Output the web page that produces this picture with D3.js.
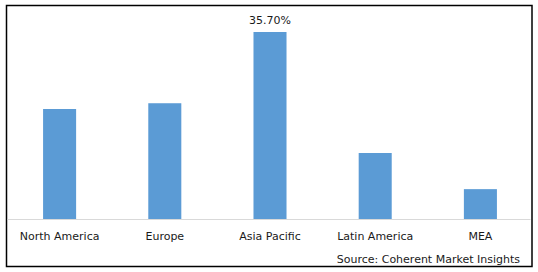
<!DOCTYPE html>
<html>
<head>
<meta charset="utf-8">
<script src="https://cdn.jsdelivr.net/npm/d3@7"></script>
<style>
  body { margin: 0; background: #fff; }
  text { font-family: "DejaVu Sans", sans-serif; font-size: 11px; fill: #1a1a1a; }
</style>
</head>
<body>
<div id="chart"></div>
<script>
// region shares, percent
const regions = ["North America", "Europe", "Asia Pacific", "Latin America", "MEA"];
const shares = [21.0, 22.1, 35.7, 12.6, 5.7];
const shareLabels = ["", "", "35.70%", "", ""];
const sourceText = "Source: Coherent Market Insights";

const width = 538, height = 272;
const baseline = 219;

const data = regions.map((r, i) => ({region: r, value: shares[i], label: shareLabels[i]}));

const svg = d3.select("#chart")
  .append("svg")
  .attr("width", width)
  .attr("height", height);

// outer frame
svg.append("rect")
  .attr("x", 6.5).attr("y", 5.5)
  .attr("width", 525.5).attr("height", 261)
  .attr("fill", "none")
  .attr("stroke", "#000")
  .attr("stroke-width", 1.5);

const x = d3.scaleBand()
  .domain(regions)
  .range([7, 533])
  .paddingInner(0.686)
  .paddingOuter(0.343);

const y = d3.scaleLinear()
  .domain([0, 35.7])
  .range([baseline, 32]);

svg.selectAll(".bar")
  .data(data)
  .enter()
  .append("rect")
  .attr("class", "bar")
  .attr("x", d => x(d.region))
  .attr("y", d => y(d.value))
  .attr("width", x.bandwidth())
  .attr("height", d => y(0) - y(d.value))
  .attr("fill", "#5b9bd5");

// category axis
const xAxis = svg.append("g")
  .attr("transform", `translate(0,${baseline})`)
  .call(d3.axisBottom(x).tickSize(0).tickPadding(13));
xAxis.select(".domain")
  .attr("stroke", "#d9d9d9")
  .attr("d", "M7.5,0.5H530.5");
xAxis.selectAll("text")
  .style("font-family", "DejaVu Sans, sans-serif")
  .style("font-size", "11px")
  .attr("fill", "#1a1a1a");

// data label
svg.selectAll(".value-label")
  .data(data.filter(d => d.label))
  .enter()
  .append("text")
  .attr("class", "value-label")
  .attr("x", d => x(d.region) + x.bandwidth() / 2)
  .attr("y", d => y(d.value) - 8)
  .attr("text-anchor", "middle")
  .text(d => d.label);

svg.append("text")
  .attr("x", 520)
  .attr("y", 263)
  .attr("text-anchor", "end")
  .text(sourceText);
</script>
</body>
</html>
